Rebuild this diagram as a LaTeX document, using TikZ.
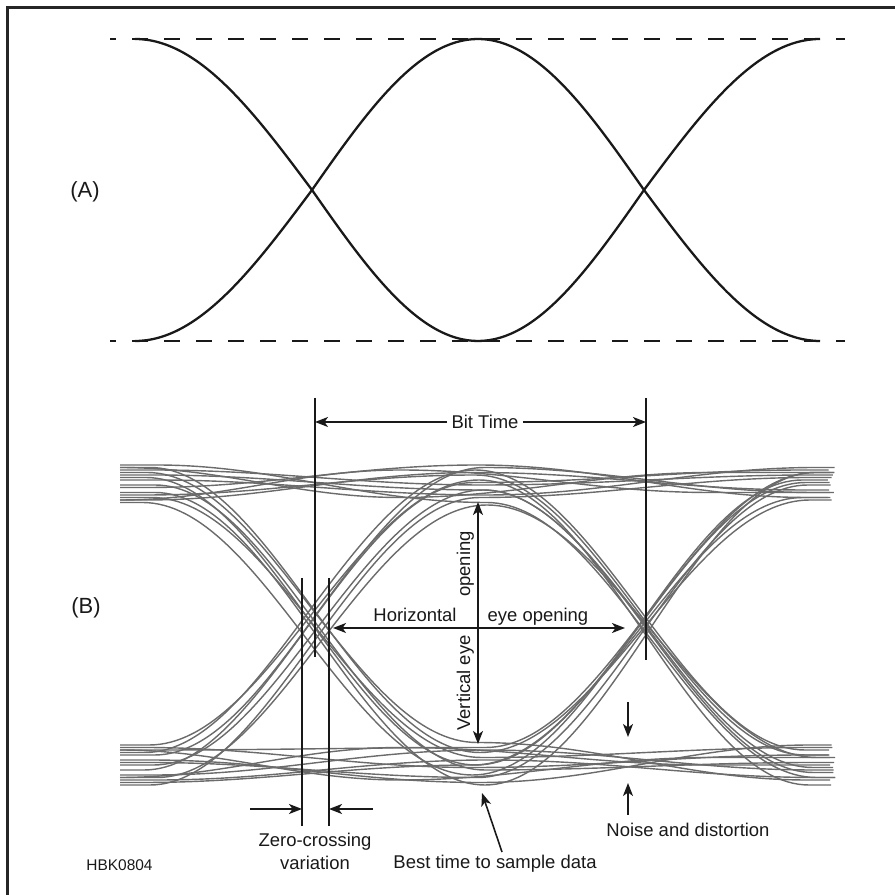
\documentclass[tikz,border=0pt]{standalone}
\usepackage{fontspec}
\setmainfont{Liberation Sans}
\usetikzlibrary{arrows.meta}

\begin{document}
\begin{tikzpicture}[
    font=\fontsize{10.5}{13}\selectfont,
    >={Stealth[length=2.6mm,width=2mm,inset=0.7mm]},
    line width=0.9pt,
    framestyle/.style={draw=black!85, line width=1.4pt},
    levelline/.style={black!90, line width=1.5pt, dash pattern=on 0.32cm off 0.32cm, dash phase=0.2cm},
    idealwave/.style={black!90, line width=1.3pt},
    trace/.style={black!58, line width=0.8pt},
    dimline/.style={black!90, line width=0.9pt},
    lbl/.style={text=black!90, inner sep=1pt},
    partlbl/.style={text=black!90, font=\fontsize{12.5}{15}\selectfont},
    smalllbl/.style={text=black!90, font=\fontsize{8.8}{10}\selectfont}
]
\useasboundingbox (0,0) rectangle (17.9,17.9);
\draw[framestyle] (0.15,0) |- (17.9,17.75);

\draw[levelline] (2.2,17.12) -- (16.9,17.12);
\draw[levelline] (2.2,11.08) -- (16.9,11.08);
\draw[idealwave] (2.7,17.12) cos (6.24,14.1) sin (9.56,11.08) cos (12.88,14.1) sin (16.4,17.12);
\draw[idealwave] (2.7,11.08) cos (6.24,14.1) sin (9.56,17.12) cos (12.88,14.1) sin (16.4,11.08);
\node[partlbl] (labelA) at (1.7,14.06) {(A)};

\foreach \dt/\ya/\yb/\yc in {
    0.05/8.5/8.2/8.4, -0.1/7.9/8.45/8.1, 0.12/8.3/8.0/8.55, -0.05/8.15/8.6/7.95,
    0.08/2.4/2.9/2.5, -0.12/2.95/2.55/2.8, 0.0/2.7/2.25/3.0, 0.15/2.3/2.7/2.35,
    -0.08/8.35/2.6/8.25, 0.1/8.05/2.2/8.45, 0.0/8.55/2.85/7.9, -0.15/7.85/2.4/8.3,
    0.07/2.6/8.1/2.45, -0.1/2.85/8.5/2.9, 0.14/2.35/7.8/2.75, -0.02/3.0/8.3/2.2,
    0.1/8.2/2.5/2.65, -0.06/8.45/3.05/2.3, 0.03/7.95/2.75/2.95,
    -0.12/2.5/8.25/8.5, 0.09/2.8/8.55/8.05, 0.0/2.2/7.95/8.35,
    0.06/8.4/8.1/2.55, -0.09/8.0/8.4/2.8, 0.13/8.6/7.85/2.35,
    -0.04/2.65/2.35/8.2, 0.11/2.9/2.95/8.45, -0.14/2.25/2.6/7.95}
  \draw[trace] (2.4,\ya) -- ({3.0+\dt},\ya) cos ({6.28+\dt},{(\ya+\yb)/2}) sin ({9.6+\dt},\yb)
    cos ({12.9+\dt},{(\yb+\yc)/2}) sin ({16.2+\dt},\yc) -- ({16.63+\dt/2},\yc);
\foreach \ya/\yb/\yc in {8.55/7.95/8.45, 7.9/8.5/8.05, 2.35/2.95/2.6, 2.9/2.3/2.75}
  \draw[trace] (2.4,\ya) cos (5.2,{(\ya+\yb)/2}) sin (8.0,\yb) cos (11.1,{(\yb+\yc)/2}) sin (14.2,\yc) -- (16.6,\yc);

\node[partlbl] (labelB) at (1.72,5.74) {(B)};

\coordinate (bitLtop) at (6.3,9.94);
\coordinate (bitLbot) at (6.3,4.76);
\coordinate (bitRtop) at (12.92,9.94);
\coordinate (bitRbot) at (12.92,4.7);
\coordinate (bitLmid) at (6.3,9.46);
\coordinate (bitRmid) at (12.92,9.46);
\draw[dimline] (bitLtop) -- (bitLbot);
\draw[dimline] (bitRtop) -- (bitRbot);
\node[lbl, inner sep=0.7mm] (bittime) at (9.7,9.46) {Bit Time};
\draw[dimline, ->] (bittime) -- (bitLmid);
\draw[dimline, ->] (bittime) -- (bitRmid);

\coordinate (heyeL) at (6.66,5.34);
\coordinate (heyeR) at (12.5,5.34);
\draw[dimline, <->] (heyeL) -- (heyeR);
\node[lbl, anchor=base] (horiz) at (8.3,5.47) {Horizontal};
\node[lbl, anchor=base] (eyeopen) at (10.76,5.47) {eye opening};

\coordinate (veyeT) at (9.56,7.86);
\coordinate (veyeB) at (9.56,3.02);
\draw[dimline, <->] (veyeT) -- (veyeB);
\node[lbl, rotate=90, anchor=base] (vopen) at (9.40,6.62) {opening};
\node[lbl, rotate=90, anchor=base] (vvert) at (9.40,4.24) {Vertical eye};

\coordinate (zcLtop) at (6.04,6.34);
\coordinate (zcLbot) at (6.04,1.38);
\coordinate (zcRtop) at (6.58,6.34);
\coordinate (zcRbot) at (6.58,1.38);
\coordinate (zcLarr) at (6.04,1.72);
\coordinate (zcRarr) at (6.58,1.72);
\coordinate (zcLtail) at (5.0,1.72);
\coordinate (zcRtail) at (7.46,1.72);
\draw[dimline] (zcLtop) -- (zcLbot);
\draw[dimline] (zcRtop) -- (zcRbot);
\draw[dimline, ->] (zcLtail) -- (zcLarr);
\draw[dimline, ->] (zcRtail) -- (zcRarr);
\node[lbl, align=center] (zerocross) at (6.3,0.88) {Zero-crossing\\variation};

\node[smalllbl, anchor=base] (figid) at (2.39,0.5) {HBK0804};

\node[lbl, anchor=base] (besttime) at (9.9,0.53) {Best time to sample data};
\coordinate (bestTail) at (10.04,0.86);
\coordinate (bestTip) at (9.64,2.04);
\draw[dimline, ->] (bestTail) -- (bestTip);

\coordinate (noiseA) at (12.56,3.86);
\coordinate (noiseAtip) at (12.56,3.16);
\coordinate (noiseB) at (12.56,1.6);
\coordinate (noiseBtip) at (12.56,2.24);
\draw[dimline, ->] (noiseA) -- (noiseAtip);
\draw[dimline, ->] (noiseB) -- (noiseBtip);
\node[lbl, anchor=base] (noise) at (13.76,1.16) {Noise and distortion};
\end{tikzpicture}
\end{document}
